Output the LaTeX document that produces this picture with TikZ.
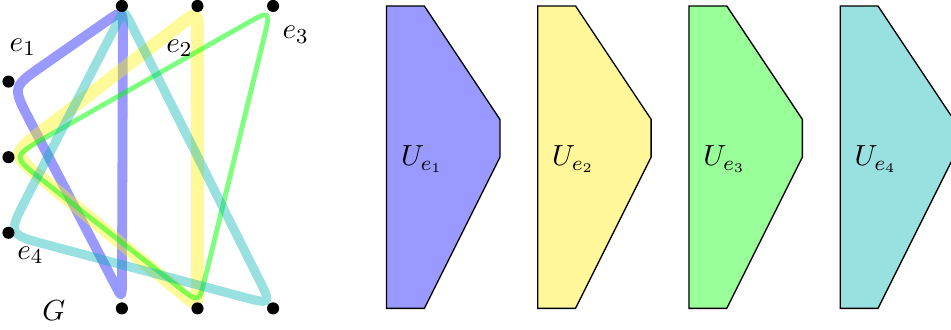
\documentclass[tikz,border=0pt]{standalone}
\usetikzlibrary{calc}
\newcommand\drawhedge[7]{%
  \draw[#1] ($(#2)!#3!(#4)$) -- ($(#4)!#5!(#2)$) .. controls (#4) .. ($(#4)!#5!(#6)$)
    -- ($(#6)!#7!(#4)$) .. controls (#6) .. ($(#6)!#7!(#2)$)
    -- ($(#2)!#3!(#6)$) .. controls (#2) .. ($(#2)!#3!(#4)$) -- cycle;}
\begin{document}
\begin{tikzpicture}[font=\fontsize{11}{13}\selectfont]
\definecolor{bbase}{rgb}{0,0,1}
\definecolor{ybase}{rgb}{1,0.95,0}
\definecolor{gbase}{rgb}{0,1,0}
\definecolor{cbase}{rgb}{0,0.7,0.7}
\definecolor{bfill}{rgb}{0.6,0.6,1}
\definecolor{yfill}{rgb}{1,0.97,0.6}
\definecolor{gfill}{rgb}{0.6,1,0.6}
\definecolor{cfill}{rgb}{0.6,0.88,0.88}
\tikzset{
  vdot/.style={circle,fill=black,inner sep=0pt,minimum size=0.16cm},
  hedge/.style={line join=round,draw opacity=0.4},
  ubox/.style={draw=black,line width=0.5pt},
  lab/.style={inner sep=0pt}
}
\useasboundingbox (-0.112,-0.273) rectangle (12.466,4.079);
\clip (-0.112,-0.273) rectangle (12.466,4.079);
% hyperedge corners
\coordinate (bL) at (0.05,2.93);  \coordinate (bT) at (1.515,3.95); \coordinate (bB) at (1.50,0.14);
\coordinate (yL) at (0.05,2.04);  \coordinate (yT) at (2.50,3.93);  \coordinate (yB) at (2.50,0.03);
\coordinate (gL) at (0.05,2.01);  \coordinate (gT) at (3.47,3.95);  \coordinate (gB) at (2.52,0.07);
\coordinate (cL) at (-0.01,0.98); \coordinate (cT) at (1.528,3.95); \coordinate (cB) at (3.48,0.05);
% hyperedges
\drawhedge{hedge,bbase,line width=0.13cm}{bL}{0.5cm}{bT}{0.28cm}{bB}{0.2cm}
\drawhedge{hedge,ybase,line width=0.17cm}{yL}{0.5cm}{yT}{0.32cm}{yB}{0.25cm}
\drawhedge{hedge,gbase,line width=0.065cm,draw opacity=0.5}{gL}{0.5cm}{gT}{0.4cm}{gB}{0.35cm}
\drawhedge{hedge,cbase,line width=0.12cm}{cL}{0.55cm}{cT}{0.22cm}{cB}{0.4cm}
% vertices
\node[vdot] (v1) at (0,3) {};
\node[vdot] (v2) at (0,2) {};
\node[vdot] (v3) at (0,1) {};
\node[vdot] (v4) at (1.5,4) {};
\node[vdot] (v5) at (2.5,4) {};
\node[vdot] (v6) at (3.5,4) {};
\node[vdot] (v7) at (1.5,0) {};
\node[vdot] (v8) at (2.5,0) {};
\node[vdot] (v9) at (3.5,0) {};
% labels
\node[lab] (l1) at (0.19,3.45) {$e_1$};
\node[lab] (l2) at (2.26,3.44) {$e_2$};
\node[lab] (l3) at (3.80,3.62) {$e_3$};
\node[lab] (l4) at (0.29,0.70) {$e_4$};
\node[lab] (lg) at (0.60,-0.03) {$G$};
% U shapes
\foreach \i/\c in {0/bfill,1/yfill,2/gfill,3/cfill}{
  \draw[ubox,fill=\c] ({5+2*\i},0) -- ({5+2*\i},4) -- ({5.5+2*\i},4) -- ({6.5+2*\i},2.5) -- ({6.5+2*\i},2) -- ({5.5+2*\i},0) -- cycle;
}
\node[lab] (u1) at (5.47,1.97) {$U_{e_1}$};
\node[lab] (u2) at (7.47,1.97) {$U_{e_2}$};
\node[lab] (u3) at (9.47,1.97) {$U_{e_3}$};
\node[lab] (u4) at (11.47,1.97) {$U_{e_4}$};
\end{tikzpicture}
\end{document}
